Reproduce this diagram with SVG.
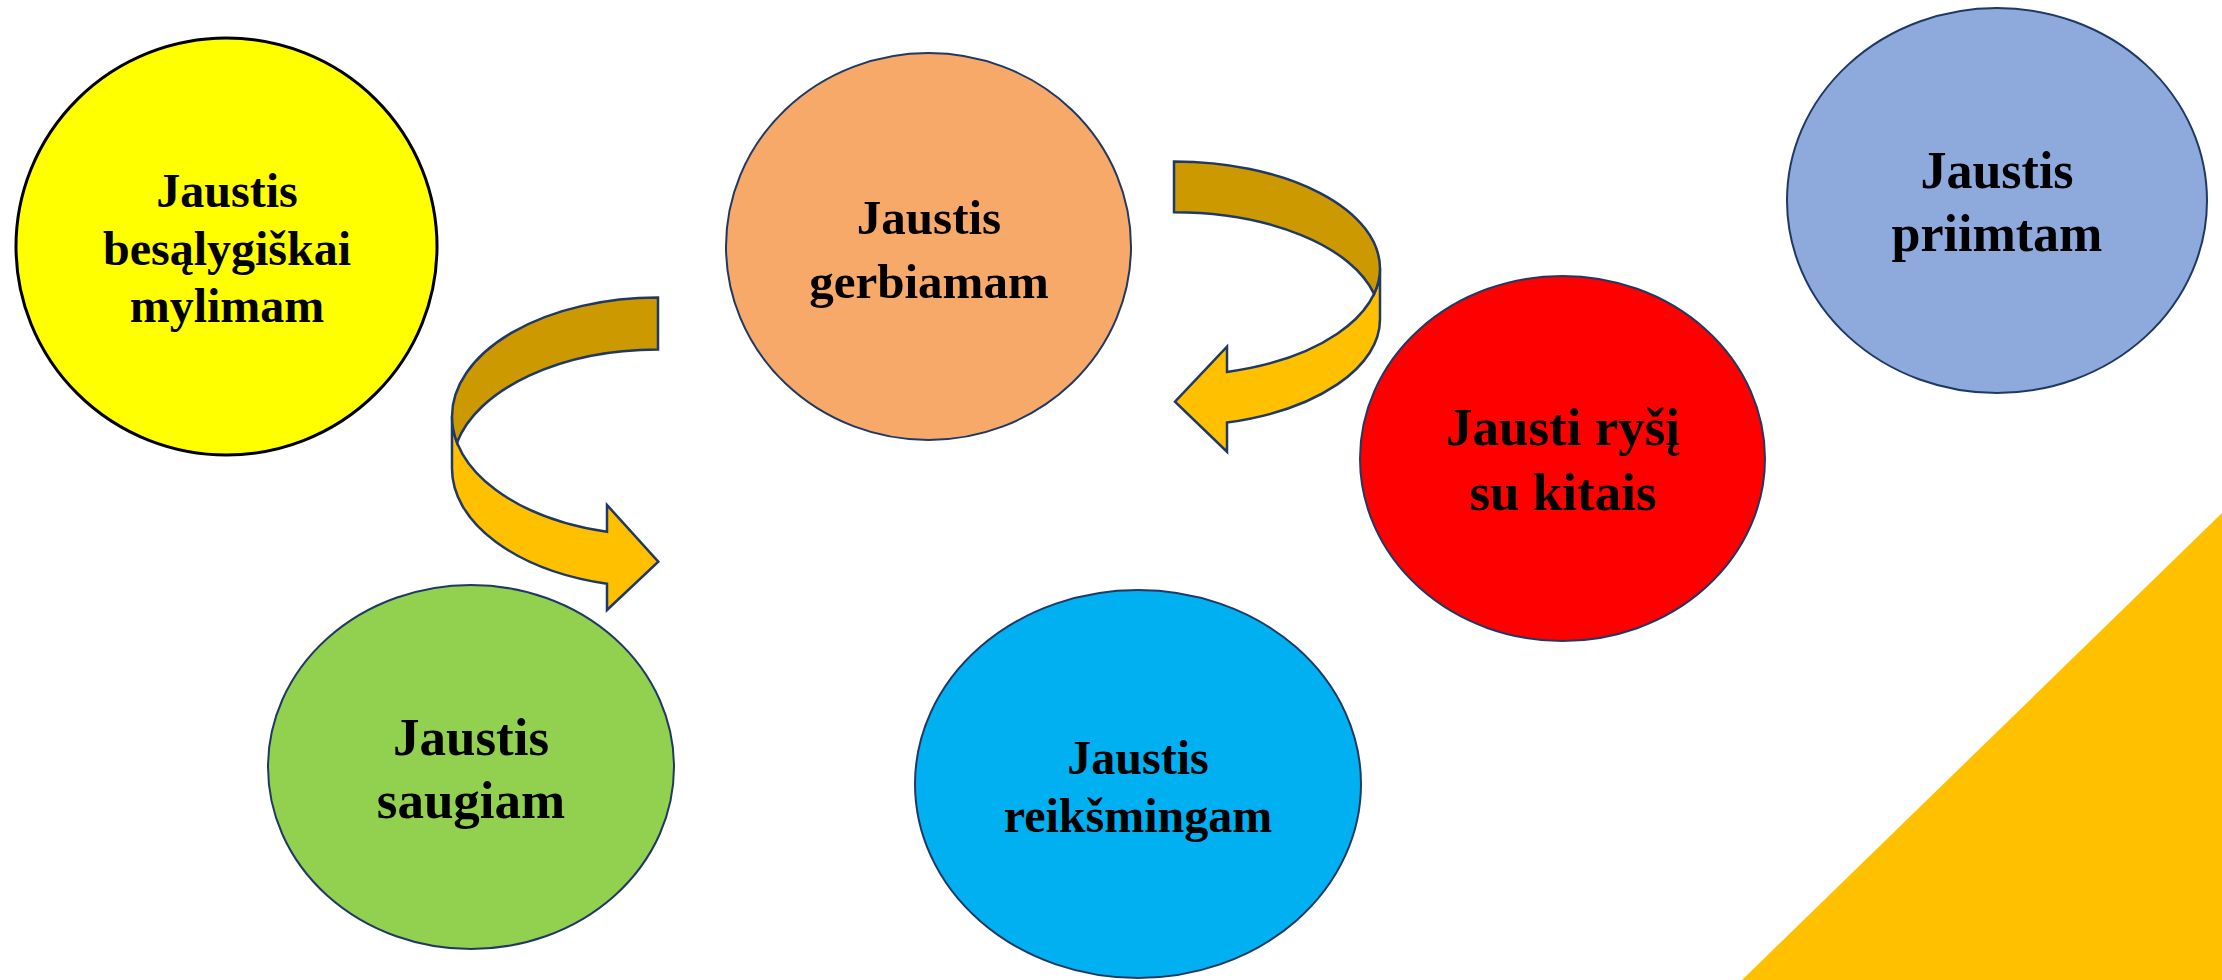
<svg xmlns="http://www.w3.org/2000/svg" width="2222" height="980" viewBox="0 0 2222 980">
<style>
.node{stroke:#1F3864;stroke-width:2}
.lbl{font-family:"Liberation Serif","Times New Roman",serif;font-weight:bold;fill:#000;text-anchor:middle}
.dark{fill:#CC9900;stroke:#1F3864;stroke-width:2.5;stroke-linejoin:miter}
.light{fill:#FFC000;stroke:#1F3864;stroke-width:2.5;stroke-linejoin:miter}
</style>
<rect width="2222" height="980" fill="#FFFFFF"/>
<polygon points="1742,980 2222,513 2222,980" fill="#FFC000"/>

<g id="connectors">
  <g id="arrow-left">
    <path class="light" d="M452,416.5 L452,468.5 A206,119 0 0 0 607,583.8 L607,610 L658.3,561.7 L607,505 L607,531.8 A206,119 0 0 1 452,416.5 Z"/>
    <path class="dark" d="M658,297.5 A206,119 0 0 0 452,416.5 A206,119 0 0 0 457,442.5 A206,119 0 0 1 658,349.5 Z"/>
  </g>
  <g id="arrow-right">
    <path class="light" d="M1380,268.5 L1380,319.2 A206,107 0 0 1 1227,422.6 L1227,451.7 L1175,401.7 L1227,346.7 L1227,371.9 A206,107 0 0 0 1380,268.5 Z"/>
    <path class="dark" d="M1174,161.5 A206,107 0 0 1 1380,268.5 A206,107 0 0 1 1374.1,293.9 A206,107 0 0 0 1174,212.2 Z"/>
  </g>
</g>

<g id="node-mylimam">
  <ellipse cx="226.5" cy="246.5" rx="210.5" ry="208.5" fill="#FFFF00" stroke="#000000" stroke-width="3"/>
  <text class="lbl" font-size="48" x="227" y="207">Jaustis</text>
  <text class="lbl" font-size="48" x="227" y="265">besąlygiškai</text>
  <text class="lbl" font-size="48" x="227" y="322">mylimam</text>
</g>

<g id="node-gerbiamam">
  <ellipse class="node" cx="928.5" cy="246.5" rx="202.5" ry="193.5" fill="#F7A96A"/>
  <text class="lbl" font-size="49" x="929" y="234">Jaustis</text>
  <text class="lbl" font-size="49" x="929" y="298">gerbiamam</text>
</g>

<g id="node-priimtam">
  <ellipse class="node" cx="1997" cy="200.5" rx="210" ry="192.5" fill="#8EA9DB"/>
  <text class="lbl" font-size="52" x="1997" y="188">Jaustis</text>
  <text class="lbl" font-size="52" x="1997" y="251">priimtam</text>
</g>

<g id="node-rysi">
  <ellipse class="node" cx="1562.5" cy="458.5" rx="202.5" ry="182.5" fill="#FF0000"/>
  <text class="lbl" font-size="53" x="1563" y="445">Jausti ryšį</text>
  <text class="lbl" font-size="53" x="1563" y="510">su kitais</text>
</g>

<g id="node-saugiam">
  <ellipse class="node" cx="471" cy="767" rx="203" ry="182" fill="#92D050"/>
  <text class="lbl" font-size="53" x="471" y="755">Jaustis</text>
  <text class="lbl" font-size="53" x="471" y="818">saugiam</text>
</g>

<g id="node-reiksmingam">
  <ellipse class="node" cx="1138" cy="784" rx="223" ry="194" fill="#00B0F0"/>
  <text class="lbl" font-size="48" x="1138" y="774">Jaustis</text>
  <text class="lbl" font-size="48" x="1138" y="832">reikšmingam</text>
</g>
</svg>
